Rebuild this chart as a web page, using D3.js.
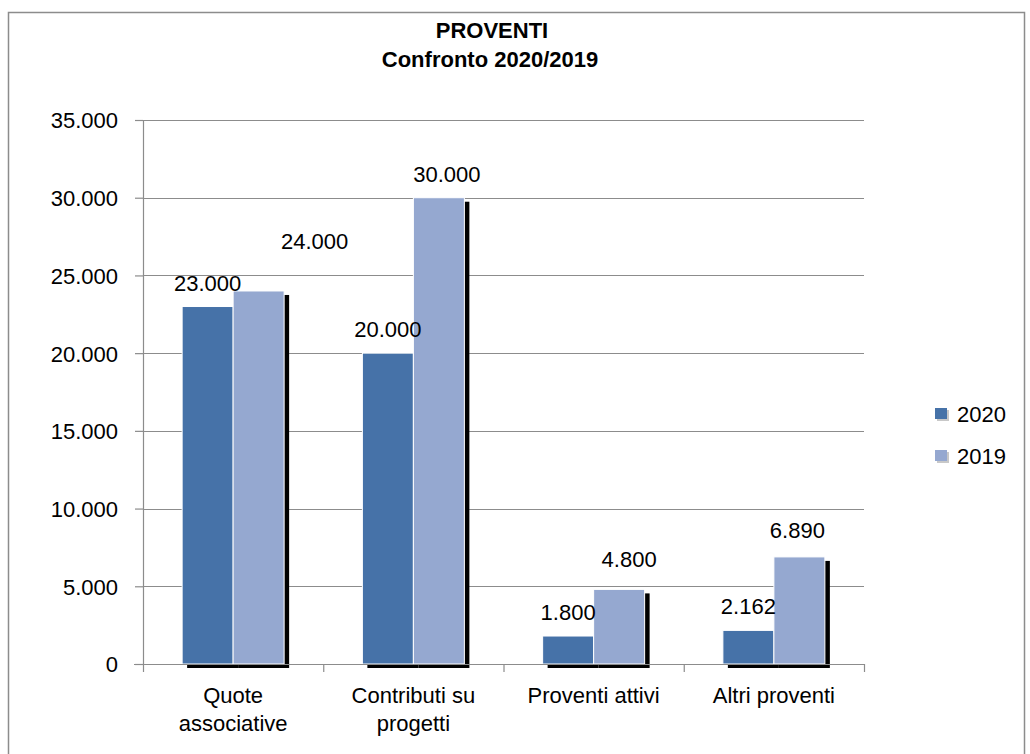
<!DOCTYPE html>
<html>
<head>
<meta charset="utf-8">
<script src="https://cdn.jsdelivr.net/npm/d3@7"></script>
<style>
  body { margin: 0; background: #fff; }
  svg { display: block; font-family: "Liberation Sans", Arial, sans-serif; }
</style>
</head>
<body>
<div id="chart"></div>
<script>
// data
const categories = [["Quote", "associative"], ["Contributi su", "progetti"], ["Proventi attivi"], ["Altri proventi"]];
const series = ["2020", "2019"];
const values2020 = [23000, 20000, 1800, 2162];
const values2019 = [24000, 30000, 4800, 6890];
const yTicks = [0, 5000, 10000, 15000, 20000, 25000, 30000, 35000];

const colors = { "2020": "#4672a8", "2019": "#95a8d0" };

const w = 1030, h = 754;
const margin = { left: 143, right: 166, top: 120, bottom: 90 };
const plotW = w - margin.left - margin.right; // 721
const plotH = h - margin.top - margin.bottom; // 544

const it = d3.formatLocale({ decimal: ",", thousands: ".", grouping: [3], currency: ["€", ""] });
const fmt = it.format(",d");

const svg = d3.select("#chart").append("svg")
    .attr("width", w)
    .attr("height", h);

// outer frame
svg.append("rect")
    .attr("x", 8.5).attr("y", 12.5)
    .attr("width", 1016).attr("height", 760)
    .attr("fill", "none")
    .attr("stroke", "#8c8c8c")
    .attr("stroke-width", 1.5);

// title
svg.append("text")
    .attr("x", 492).attr("y", 38)
    .attr("text-anchor", "middle")
    .style("font-weight", "bold").style("font-size", "22px")
    .text("PROVENTI");
svg.append("text")
    .attr("x", 490).attr("y", 67)
    .attr("text-anchor", "middle")
    .style("font-weight", "bold").style("font-size", "22px")
    .text("Confronto 2020/2019");

const g = svg.append("g").attr("transform", `translate(${margin.left},${margin.top})`);

const y = d3.scaleLinear().domain([0, 35000]).range([plotH, 0]);
const x0 = d3.scaleBand().domain(d3.range(categories.length)).range([0, plotW]).padding(0);
const bw = x0.bandwidth();
const x1 = d3.scaleBand().domain(series).range([bw / 2 - 51, bw / 2 + 51]).padding(0);

// gridlines
g.selectAll(".grid").data(yTicks.slice(1))
  .enter().append("line")
    .attr("x1", 0).attr("x2", plotW)
    .attr("y1", d => Math.round(y(d)) + 0.5).attr("y2", d => Math.round(y(d)) + 0.5)
    .attr("stroke", "#8c8c8c").attr("stroke-width", 1.2);

// y axis
const yAxis = d3.axisLeft(y).tickValues(yTicks).tickSize(8).tickPadding(17).tickFormat(d => d === 0 ? "0" : fmt(d));
const ya = g.append("g").call(yAxis);
ya.select(".domain").remove();
ya.selectAll("line").attr("stroke", "#8c8c8c").attr("stroke-width", 1.2);
ya.selectAll("text").style("font-size", "22px").attr("fill", "#000").attr("dy", "0.36em")
    .style("font-family", "Liberation Sans, Arial, sans-serif");

// data rows
const rows = categories.map((c, i) => ({ i, vals: [
    { key: "2020", value: values2020[i] },
    { key: "2019", value: values2019[i] }
]}));

const groups = g.selectAll(".grp").data(rows).enter().append("g")
    .attr("transform", d => `translate(${x0(d.i)},0)`);

// shadow of each group (drawn under bars)
groups.selectAll(".shadow").data(d => d.vals).enter().append("rect")
    .attr("x", d => x1(d.key) + 5)
    .attr("y", d => y(d.value) + 4)
    .attr("width", x1.bandwidth())
    .attr("height", d => plotH - y(d.value))
    .attr("fill", "#000");

groups.selectAll(".bar").data(d => d.vals).enter().append("rect")
    .attr("x", d => x1(d.key))
    .attr("y", d => y(d.value))
    .attr("width", x1.bandwidth())
    .attr("height", d => plotH - y(d.value))
    .attr("fill", d => colors[d.key])
    .attr("stroke", "#fff").attr("stroke-width", 1);

// x axis line and ticks
g.append("line").attr("x1", -9).attr("x2", plotW).attr("y1", plotH + 0.5).attr("y2", plotH + 0.5)
    .attr("stroke", "#8c8c8c").attr("stroke-width", 1.2);
g.append("line").attr("x1", 0.5).attr("x2", 0.5).attr("y1", 0).attr("y2", plotH + 8)
    .attr("stroke", "#8c8c8c").attr("stroke-width", 1.2);
g.selectAll(".xtick").data(d3.range(categories.length))
  .enter().append("line")
    .attr("x1", d => x0(d) + bw + 0.5).attr("x2", d => x0(d) + bw + 0.5)
    .attr("y1", plotH).attr("y2", plotH + 8)
    .attr("stroke", "#8c8c8c").attr("stroke-width", 1.2);

// category labels
categories.forEach((lines, i) => {
    const t = g.append("text")
        .attr("text-anchor", "middle")
        .attr("x", x0(i) + bw / 2)
        .attr("y", plotH + 39)
        .style("font-size", "22px");
    lines.forEach((ln, k) => {
        t.append("tspan").attr("x", x0(i) + bw / 2).attr("dy", k === 0 ? 0 : 28).text(ln);
    });
});

// value labels (a couple nudged like the original auto-placement)
function nudge(d, i) {
    if (d.key === "2019" && i === 0) return [56, -26];
    if (d.key === "2019" && i === 1) return [8, 0];
    if (d.key === "2019" && i === 2) return [10, -6];
    if (d.key === "2019" && i === 3) return [-2, -3];
    return [0, 0];
}
groups.each(function(row) {
    d3.select(this).selectAll(".lbl").data(row.vals).enter().append("text")
        .attr("text-anchor", "middle")
        .attr("x", d => x1(d.key) + x1.bandwidth() / 2 + nudge(d, row.i)[0])
        .attr("y", d => y(d.value) - 16 + nudge(d, row.i)[1])
        .style("font-size", "22px")
        .text(d => fmt(d.value));
});

// legend
const legend = svg.append("g").attr("transform", "translate(935,408)");
series.forEach((s, k) => {
    const lg = legend.append("g").attr("transform", `translate(0,${k * 42})`);
    lg.append("rect").attr("x", 2).attr("y", 2).attr("width", 12).attr("height", 11).attr("fill", "#c8c8c8");
    lg.append("rect").attr("x", 0).attr("y", 0).attr("width", 12).attr("height", 11).attr("fill", colors[s]);
    lg.append("text").attr("x", 22).attr("y", 14).style("font-size", "22px").text(s);
});
</script>
</body>
</html>
